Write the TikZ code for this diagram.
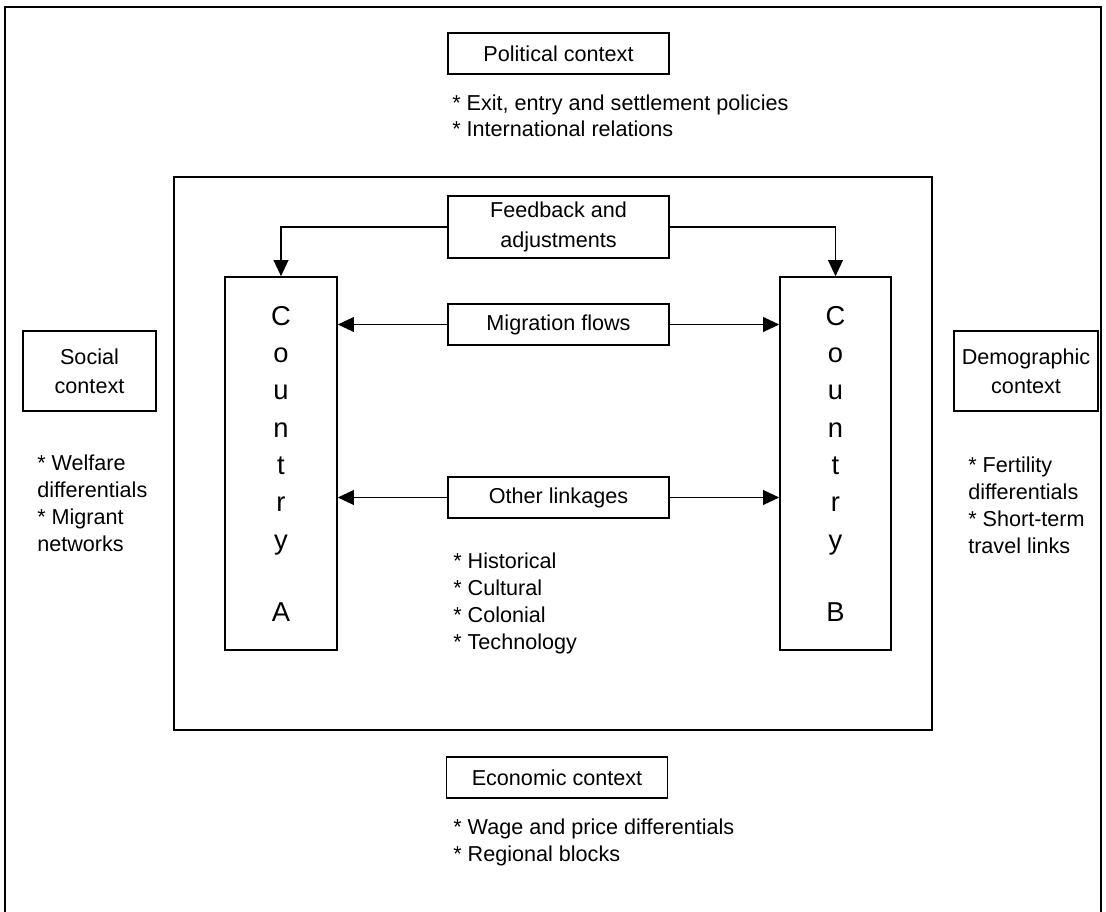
\documentclass[tikz,border=0pt]{standalone}
\usepackage{fontspec}
\setmainfont{Liberation Sans}
\usetikzlibrary{arrows.meta}
\begin{document}
\begin{tikzpicture}[x=0.75pt,y=-0.75pt,
  box/.style={draw, line width=1.2pt, inner sep=0pt, font=\fontsize{16.2}{22}\selectfont, align=center},
  wide/.style={box, minimum width=165.75pt, minimum height=30.75pt},
  side/.style={box, minimum height=60pt},
  country/.style={draw, line width=1.2pt, inner sep=0pt, minimum height=279.75pt, font=\fontsize{20.5}{28}\selectfont, align=center},
  list/.style={anchor=base west, inner sep=0pt, align=left, font=\fontsize{16.2}{20.2}\selectfont},
  arr/.style={line width=1.2pt, -{Triangle[length=12pt,width=11pt]}},
  frame/.style={line width=1.5pt}]
\useasboundingbox (0,0) rectangle (1106,912);
% outer frame and inner box
\draw[frame] (5,7) rectangle (1101,930);
\draw[line width=1.2pt] (174,177) rectangle (932,730);
% context boxes (list nodes are anchored at the baseline of their last line)
\node[wide] (pol) at (558.5,53.5) {Political context};
\node[list] (poll) at (452,137) {* Exit, entry and settlement policies\\* International relations};
\node[wide] (eco) at (557,777.5) {Economic context};
\node[list] (ecol) at (453,861) {* Wage and price differentials\\* Regional blocks};
\node[side, minimum width=99.75pt] (soc) at (89.5,371) {Social\\context};
\node[list] (socl) at (37,551) {* Welfare\\differentials\\* Migrant\\networks};
\node[side, minimum width=108pt] (dem) at (1026,371) {Demographic\\context};
\node[list] (deml) at (968,553) {* Fertility\\differentials\\* Short-term\\travel links};
% inner elements
\node[wide, minimum height=46.5pt] (fb) at (558.5,227) {Feedback and\\adjustments};
\node[wide] (mig) at (558.5,324.5) {Migration flows};
\node[wide] (oth) at (558.5,497.5) {Other linkages};
\node[list] (othl) at (453,649) {* Historical\\* Cultural\\* Colonial\\* Technology};
\node[country, minimum width=84pt] (ca) at (281,463.5) {C\\o\\u\\n\\t\\r\\y\\[26pt]A};
\node[country, minimum width=83.25pt] (cb) at (835.5,463.5) {C\\o\\u\\n\\t\\r\\y\\[26pt]B};
% connectors
\draw[arr] (fb.west) -| (ca.north);
\draw[arr] (fb.east) -| (cb.north);
\draw[arr] (mig.west) -- (mig.west -| ca.east);
\draw[arr] (mig.east) -- (mig.east -| cb.west);
\draw[arr] (oth.west) -- (oth.west -| ca.east);
\draw[arr] (oth.east) -- (oth.east -| cb.west);
\end{tikzpicture}
\end{document}
